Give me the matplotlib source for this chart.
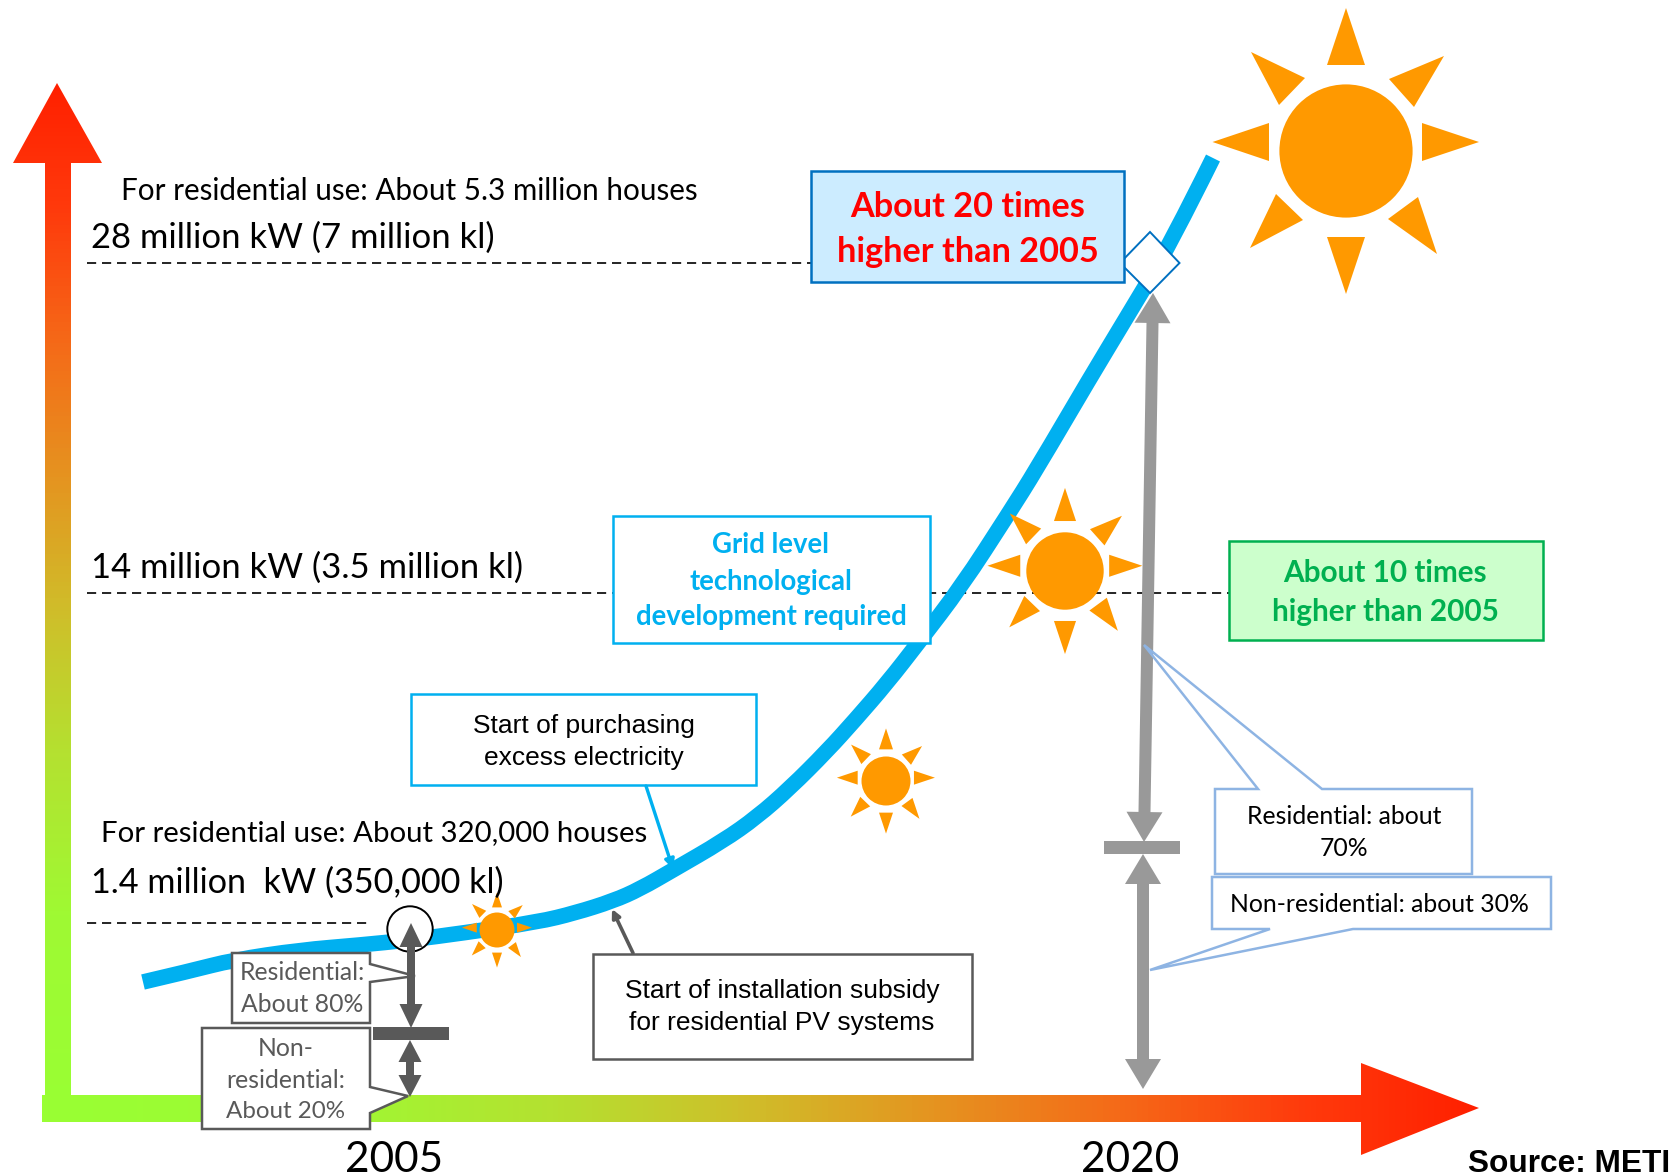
import numpy as np
import matplotlib
matplotlib.use("Agg")
import matplotlib.pyplot as plt
from matplotlib.colors import LinearSegmentedColormap
from matplotlib.patches import Circle, PathPatch, Polygon, Rectangle
from matplotlib.path import Path

W, H = 1680, 1176

# curve of installed capacity, in canvas pixels
curve_x = [143, 190, 233, 300, 360, 410, 463, 538, 575, 613, 640, 673, 723, 757, 790, 827, 855, 887, 919, 961, 1009, 1036, 1090, 1125, 1170, 1213]
curve_y = [982, 971, 960, 950, 945, 940, 933, 922, 913, 901, 889, 870, 841, 817, 788, 751, 720, 683, 642, 587, 513, 470, 378, 320, 245, 158]

year_labels = ["2005", "2020"]
level_labels = ["28 million kW (7 million kl)", "14 million kW (3.5 million kl)", "1.4 million  kW (350,000 kl)"]
house_labels = ["For residential use: About 5.3 million houses", "For residential use: About 320,000 houses"]

CAL = ["Lato", "DejaVu Sans"]
ARI = ["Liberation Sans", "DejaVu Sans"]
BLUE = "#00B0F0"
ORANGE = "#FF9900"
DARK = "#595959"
GREY = "#999999"
PALE = "#8EB4E3"

fig = plt.figure(figsize=(W / 100, H / 100), dpi=100)
ax = fig.add_axes([0, 0, 1, 1])
ax.set_xlim(0, W)
ax.set_ylim(H, 0)
ax.axis("off")

grad = LinearSegmentedColormap.from_list("axis", [
    (0, "#99FF33"), (0.2, "#9FF933"), (0.36, "#B5E030"), (0.49, "#CFBE2A"),
    (0.62, "#E59420"), (0.75, "#F56A18"), (0.88, "#FF3A0C"), (1, "#FF2000")])


def grad_arrow(verts, extent, vertical):
    n = 256
    g = np.linspace(0, 1, n)
    g = g.reshape(-1, 1) if vertical else g.reshape(1, -1)
    im = ax.imshow(g, cmap=grad, extent=extent, aspect="auto", origin="lower", zorder=1)
    p = Polygon(verts, closed=True, transform=ax.transData, fc="none", ec="none")
    ax.add_patch(p)
    im.set_clip_path(p)


# y axis arrow, then x axis arrow
grad_arrow([(45, 1122), (45, 163), (13, 163), (57, 83), (102, 163), (71, 163), (71, 1122)], (13, 102, 1122, 83), True)
grad_arrow([(42, 1095), (1361, 1095), (1361, 1063), (1479, 1108), (1361, 1155), (1361, 1122), (42, 1122)], (42, 1479, 1155, 1063), False)
ax.set_xlim(0, W)
ax.set_ylim(H, 0)

# dashed guide lines
for y, x1 in [(262.5, 811), (592.5, 1229), (923, 372)]:
    ax.plot([87, x1], [y, y], color="black", lw=1.2, dashes=(5.5, 3.5), zorder=2)

# the curve, smoothed with quadratic segments through the read points
pts = np.column_stack([curve_x, curve_y]).astype(float)
verts = [pts[0]]
codes = [Path.MOVETO]
for i in range(1, len(pts) - 1):
    end = pts[i + 1] if i == len(pts) - 2 else (pts[i] + pts[i + 1]) / 2
    verts += [pts[i], end]
    codes += [Path.CURVE3, Path.CURVE3]
ax.add_patch(PathPatch(Path(verts, codes), fc="none", ec=BLUE, lw=11.2, capstyle="butt", joinstyle="round", zorder=3))

ax.add_patch(Circle((410, 929), 22.7, fc="white", ec="black", lw=1.4, zorder=4))
ax.add_patch(Polygon([(1150, 232), (1179.5, 263), (1150, 293), (1120, 263)], fc="white", ec="#0070C0", lw=1.4, zorder=4))

# one sun outline in pixels for radius 66.6, scaled for each sun
rays = [
    [(0, -143), (-19, -86), (19, -86)],
    [(0, 143), (-19, 86), (19, 86)],
    [(-133.5, -9), (-77, -28), (-77, 10)],
    [(133, -9), (76, -28), (76, 10)],
    [(-95, -99), (-41, -73), (-67, -46)],
    [(98, -95), (43, -72), (68, -44)],
    [(-96, 97), (-70, 43), (-43, 69)],
    [(91, 103), (72, 46), (42, 68)],
]


def sun(cx, cy, r):
    k = r / 66.6
    ax.add_patch(Circle((cx, cy), r, fc=ORANGE, ec="none", zorder=5))
    for tri in rays:
        ax.add_patch(Polygon([(cx + a * k, cy + b * k) for a, b in tri], fc=ORANGE, ec="none", zorder=5))


sun(1346, 151, 66.6)
sun(1065, 571, 38.7)
sun(886, 781, 24.5)
sun(497, 930, 17.5)


def box(x0, y0, x1, y1, fc, ec, lw=1.8, z=6):
    ax.add_patch(Rectangle((x0, y0), x1 - x0, y1 - y0, fc=fc, ec=ec, lw=lw, zorder=z))


box(811, 171, 1124, 282, "#CCECFF", "#0070C0")
box(1229, 541, 1543, 640, "#CCFFCC", "#00B050")
box(613, 516, 930, 643, "white", BLUE)
box(411, 694, 756, 785, "white", BLUE)
box(593, 954, 972, 1059, "white", DARK)


# white body under the arrows, outline over them
def callout(verts, ec, lw=1.8):
    ax.add_patch(Polygon(verts, closed=True, fc="white", ec="none", zorder=6))
    ax.add_patch(Polygon(verts, closed=True, fc="none", ec=ec, lw=lw, joinstyle="miter", zorder=8))


callout([(232, 953), (370, 953), (370, 964), (415, 976), (370, 982), (370, 1023), (232, 1023)], DARK)
callout([(202, 1028), (370, 1028), (370, 1087), (408, 1096), (370, 1113), (370, 1129), (202, 1129)], DARK)


def dbl_arrow(x0, y0, x1, y1, w, hw, hl, color):
    a = np.array([x0, y0], dtype=float)
    b = np.array([x1, y1], dtype=float)
    u = (b - a) / np.hypot(*(b - a))
    n = np.array([-u[1], u[0]])
    a2 = a + u * hl
    b2 = b - u * hl
    outline = [a, a2 + n * hw / 2, a2 + n * w / 2, b2 + n * w / 2, b2 + n * hw / 2,
               b, b2 - n * hw / 2, b2 - n * w / 2, a2 - n * w / 2, a2 - n * hw / 2]
    ax.add_patch(Polygon(outline, closed=True, fc=color, ec="none", zorder=7))


# 2005 split
dbl_arrow(411, 923, 411, 1028, 8, 23, 24, DARK)
ax.add_patch(Rectangle((373, 1027), 76, 13, fc=DARK, ec="none", zorder=7))
dbl_arrow(410, 1040, 410, 1097, 8, 23, 22, DARK)

# 2020 split
dbl_arrow(1153, 293, 1144, 842, 12, 36, 30, GREY)
ax.add_patch(Rectangle((1104, 841), 76, 13, fc=GREY, ec="none", zorder=5.5))
dbl_arrow(1143, 854, 1143, 1089, 12, 36, 30, GREY)

callout([(1215, 789), (1258, 789), (1144, 645), (1322, 789), (1472, 789), (1472, 874), (1215, 874)], PALE)
callout([(1212, 877), (1551, 877), (1551, 929), (1353, 929), (1150, 970), (1270, 929), (1212, 929)], PALE)

# leader arrows of the two start boxes
ax.annotate("", xy=(673, 869), xytext=(646, 786),
            arrowprops=dict(arrowstyle="-|>", color=BLUE, lw=2.4, shrinkA=0, shrinkB=0, mutation_scale=14), zorder=6)
ax.annotate("", xy=(612, 909), xytext=(633, 953),
            arrowprops=dict(arrowstyle="-|>", color=DARK, lw=2.6, shrinkA=0, shrinkB=0, mutation_scale=12), zorder=6)


def txt(x, y, s, size, color="black", ha="center", weight="normal", family=CAL):
    ax.text(x, y, s, fontsize=size, color=color, ha=ha, va="center", weight=weight, family=family, zorder=9)


txt(121, 191, house_labels[0], 21.3, ha="left")
txt(91, 238, level_labels[0], 24.9, ha="left")
txt(91, 568, level_labels[1], 24.9, ha="left")
txt(101, 833, house_labels[1], 21.2, ha="left")
txt(91, 883, level_labels[2], 24.6, ha="left")

txt(968, 207, "About 20 times", 24.7, "#FF0000", weight="bold")
txt(968, 252, "higher than 2005", 24.7, "#FF0000", weight="bold")
txt(1385, 573, "About 10 times", 21.4, "#00B050", weight="bold")
txt(1385, 612, "higher than 2005", 21.4, "#00B050", weight="bold")
txt(771, 545, "Grid level", 19.8, BLUE, weight="bold")
txt(771, 582, "technological", 19.8, BLUE, weight="bold")
txt(771, 617, "development required", 19.8, BLUE, weight="bold")

txt(584, 726, "Start of purchasing", 19, family=ARI)
txt(584, 758, "excess electricity", 19, family=ARI)
txt(782, 991, "Start of installation subsidy", 19, family=ARI)
txt(782, 1023, "for residential PV systems", 19, family=ARI)

txt(1344, 816, "Residential: about", 17.8)
txt(1344, 848, "70%", 17.8)
txt(1379, 904, "Non-residential: about 30%", 17.8)

txt(302, 973, "Residential:", 17.8, DARK)
txt(302, 1004, "About 80%", 17.8, DARK)
txt(286, 1048, "Non-", 17.8, DARK)
txt(286, 1080, "residential:", 17.8, DARK)
txt(286, 1111, "About 20%", 17.4, DARK)

txt(394, 1160, year_labels[0], 30.4)
txt(1130, 1160, year_labels[1], 30.4)
txt(1670, 1164, "Source: METI", 22.8, ha="right", weight="bold", family=ARI)

fig.savefig("out.png", dpi=100)
